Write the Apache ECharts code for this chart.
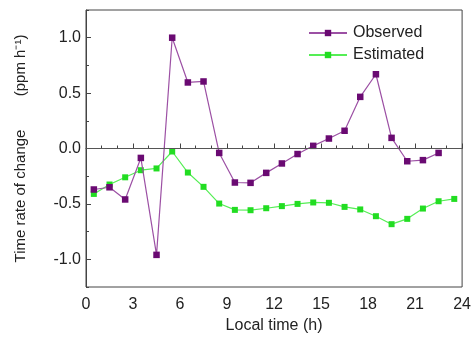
<!DOCTYPE html>
<html>
<head>
<meta charset="utf-8">
<script src="https://cdn.jsdelivr.net/npm/echarts@6/dist/echarts.min.js"></script>
<style>html,body{margin:0;padding:0;background:#fff}#c{width:474px;height:340px}</style>
</head>
<body>
<div id="c"></div>
<script>
var hours = [0.5,1.5,2.5,3.5,4.5,5.5,6.5,7.5,8.5,9.5,10.5,11.5,12.5,13.5,14.5,15.5,16.5,17.5,18.5,19.5,20.5,21.5,22.5,23.5];
var observed = [-0.37,-0.35,-0.46,-0.085,-0.96,1.0,0.596,0.605,-0.04,-0.307,-0.31,-0.22,-0.135,-0.05,0.024,0.09,0.16,0.466,0.67,0.096,-0.115,-0.105,-0.04,null];
var estimated = [-0.41,-0.325,-0.26,-0.196,-0.18,-0.027,-0.217,-0.346,-0.497,-0.554,-0.557,-0.539,-0.52,-0.5,-0.487,-0.49,-0.527,-0.55,-0.611,-0.683,-0.635,-0.542,-0.476,-0.455];
var yTicks = [-1.0,-0.5,0.0,0.5,1.0];
var seriesNames = ['Observed','Estimated'];

function pairs(vals){
  var out=[];
  for(var i=0;i<hours.length;i++){ if(vals[i]!==null) out.push([hours[i],vals[i]]); }
  return out;
}
var FONT='Liberation Sans, Arial, sans-serif';
var chart = echarts.init(document.getElementById('c'), null, {renderer:'canvas'});
chart.setOption({
  animation:false,
  backgroundColor:'#fff',
  textStyle:{fontFamily:FONT},
  grid:{left:86,right:10,top:10,bottom:53,show:true,borderColor:'#444',borderWidth:1,backgroundColor:'transparent'},
  legend:{
    orient:'vertical', left:303, top:20, itemWidth:38, itemHeight:8, itemGap:6,
    textStyle:{fontFamily:FONT,fontSize:16,color:'#222',padding:[0,0,0,1]},
    data:seriesNames
  },
  xAxis:{
    type:'value', min:0, max:24, interval:3,
    name:'Local time (h)', nameLocation:'middle', nameGap:30,
    nameTextStyle:{fontFamily:FONT,fontSize:16,color:'#222'},
    axisLine:{lineStyle:{color:'#444',width:1}},
    axisTick:{inside:true,length:5,lineStyle:{color:'#444'}},
    minorTick:{show:true,splitNumber:3,length:3,lineStyle:{color:'#444'}},
    axisLabel:{fontFamily:FONT,fontSize:16,color:'#222',margin:10},
    splitLine:{show:false}
  },
  yAxis:[{
    type:'value', min:-1.25, max:1.25, interval:0.25,
    name:'Time rate of change        (ppm h\u207B\u00B9)', nameLocation:'middle', nameGap:58,
    nameTextStyle:{fontFamily:FONT,fontSize:15,color:'#222'},
    axisLine:{lineStyle:{color:'#444',width:1}},
    axisTick:{inside:true,length:3,lineStyle:{color:'#444'}},
    axisLabel:{show:false},
    splitLine:{show:false}
  },{
    type:'value', min:-1.25, max:1.25, position:'left',
    axisLine:{show:false},
    axisTick:{show:true,inside:true,length:5,lineStyle:{color:'#444'},customValues:yTicks},
    axisLabel:{fontFamily:FONT,fontSize:16,color:'#222',margin:5,customValues:yTicks,
      formatter:function(v){return v.toFixed(1);}},
    splitLine:{show:false}
  }],
  series:[{
    name:seriesNames[0], type:'line', data:pairs(observed),
    symbol:'rect', symbolSize:6.5,
    lineStyle:{color:'#9c50a4',width:1.2},
    itemStyle:{color:'#6a0a72'},
    z:3,
    markLine:{silent:true,symbol:'none',label:{show:false},
      lineStyle:{color:'#555',type:'solid',width:1},
      data:[{yAxis:0}]}
  },{
    name:seriesNames[1], type:'line', data:pairs(estimated),
    symbol:'rect', symbolSize:6,
    lineStyle:{color:'#55ee55',width:1.2},
    itemStyle:{color:'#22dd22'},
    z:2
  }]
});
</script>
</body>
</html>
